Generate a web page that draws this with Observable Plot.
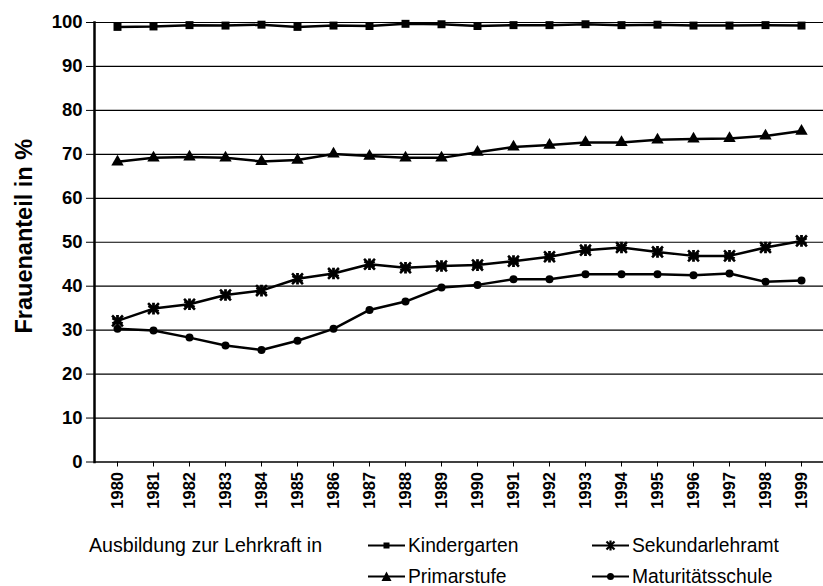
<!DOCTYPE html>
<html><head><meta charset="utf-8">
<script src="https://cdn.jsdelivr.net/npm/d3@7"></script>
<script src="https://cdn.jsdelivr.net/npm/@observablehq/plot@0.6"></script>
<style>
body{margin:0;background:#fff;font-family:"Liberation Sans",Arial,sans-serif;}
#wrap{position:relative;width:823px;height:586px;overflow:hidden;background:#fff;}
.leg{position:absolute;font-size:19.6px;line-height:19px;color:#000;white-space:nowrap;}
.item{position:absolute;display:flex;align-items:center;font-size:19.3px;line-height:19px;white-space:nowrap;color:#000;}
.item svg{margin-right:3px;}
</style></head><body>
<div id="wrap"><div id="chart"></div><div id="legend"></div></div>
<script>
const years = ["1980","1981","1982","1983","1984","1985","1986","1987","1988","1989","1990","1991","1992","1993","1994","1995","1996","1997","1998","1999"];
const kindergarten = [99.0,99.1,99.4,99.3,99.5,99.0,99.3,99.2,99.7,99.6,99.2,99.4,99.4,99.6,99.4,99.5,99.3,99.3,99.4,99.3];
const primarstufe = [68.3,69.2,69.4,69.2,68.4,68.7,70.1,69.6,69.2,69.2,70.5,71.7,72.1,72.7,72.7,73.3,73.5,73.6,74.2,75.3];
const sekundarlehramt = [32.1,34.9,35.9,38.0,39.0,41.7,42.9,45.0,44.2,44.6,44.8,45.7,46.7,48.2,48.8,47.8,46.9,46.9,48.8,50.3];
const maturitaetsschule = [30.3,29.9,28.3,26.5,25.5,27.6,30.3,34.6,36.5,39.7,40.3,41.6,41.6,42.7,42.7,42.7,42.5,42.9,41.0,41.3];
const seriesNames = ["Kindergarten","Primarstufe","Sekundarlehramt","Maturitätsschule"];
const yTicks = [0,10,20,30,40,50,60,70,80,90,100];
const gridTicks = [10,20,30,40,50,60,70,80,90,100];
const yLabel = "Frauenanteil in %";
const legendTitle = "Ausbildung zur Lehrkraft in";

const seriesValues = [kindergarten, primarstufe, sekundarlehramt, maturitaetsschule];
const data = [];
seriesNames.forEach((name, si) => years.forEach((yr, i) => data.push({year: yr, value: seriesValues[si][i], series: name})));
const of = name => data.filter(d => d.series === name);

const chart = Plot.plot({
  width: 823,
  height: 530,
  marginLeft: 94,
  marginRight: 0,
  marginTop: 22,
  marginBottom: 68.5,
  style: {fontFamily: "'Liberation Sans', Arial, sans-serif", color: "#000", background: "#fff"},
  x: {type: "point", domain: years, padding: 0.5},
  y: {domain: [0, 100]},
  marks: [
    Plot.ruleY(gridTicks, {stroke: "#000", strokeWidth: 1.2}),
    Plot.ruleY([0], {stroke: "#000", strokeWidth: 1.6}),
    Plot.frame({anchor: "left", stroke: "#000", strokeWidth: 2.5}),
    Plot.axisY({ticks: yTicks, tickSize: 8, tickPadding: 4, fontSize: 18.5, fontWeight: "bold", label: null, stroke: "#000"}),
    Plot.axisX({tickRotate: -90, tickSize: 5, tickPadding: 5, fontSize: 16.5, fontWeight: "bold", label: null}),
    Plot.text([yLabel], {frameAnchor: "left", textAnchor: "middle", rotate: -90, dx: -70, dy: -6, fontSize: 23.5, fontWeight: "bold", fill: "#000"}),
    Plot.line(data, {x: "year", y: "value", z: "series", stroke: "#000", strokeWidth: 2.5}),
    Plot.dot(of("Kindergarten"), {x: "year", y: "value", symbol: "square", fill: "#000", r: 4.5}),
    Plot.dot(of("Primarstufe"), {x: "year", y: "value", symbol: "triangle", fill: "#000", r: 4.6}),
    Plot.dot(of("Sekundarlehramt"), {x: "year", y: "value", symbol: "asterisk", stroke: "#000", strokeWidth: 2.8, r: 5.5}),
    Plot.dot(of("Sekundarlehramt"), {x: "year", y: "value", symbol: "times", stroke: "#000", strokeWidth: 2.6, r: 5}),
    Plot.dot(of("Maturitätsschule"), {x: "year", y: "value", symbol: "circle", fill: "#000", r: 4})
  ]
});
document.getElementById("chart").append(chart);

// legend (HTML, below the svg)
const legend = document.getElementById("legend");
const title = document.createElement("div");
title.className = "leg";
title.style.left = "89px"; title.style.top = "536px";
title.textContent = legendTitle;
legend.append(title);

const symbolPaths = {
  "Kindergarten": '<rect x="15.5" y="5.5" width="6" height="6" fill="#000"/>',
  "Primarstufe": '<path d="M18.5 3.5 L23.5 13 L13.5 13 Z" fill="#000"/>',
  "Sekundarlehramt": '<path d="M14.5 4.5 L22.5 12.5 M22.5 4.5 L14.5 12.5 M18.5 3.5 L18.5 13.5" stroke="#000" stroke-width="2.2"/>',
  "Maturitätsschule": '<circle cx="18.5" cy="8.5" r="3.5" fill="#000"/>'
};
const positions = [
  {name: "Kindergarten", left: 368, top: 536},
  {name: "Sekundarlehramt", left: 592, top: 536},
  {name: "Primarstufe", left: 368, top: 567},
  {name: "Maturitätsschule", left: 592, top: 567}
];
positions.forEach(p => {
  const it = document.createElement("div");
  it.className = "item";
  it.style.left = p.left + "px"; it.style.top = p.top + "px";
  it.innerHTML = '<svg width="37" height="17" viewBox="0 0 37 17"><line x1="0" y1="8.5" x2="37" y2="8.5" stroke="#000" stroke-width="1.8"/>' + symbolPaths[p.name] + '</svg><span>' + p.name + '</span>';
  legend.append(it);
});
</script>
</body></html>
